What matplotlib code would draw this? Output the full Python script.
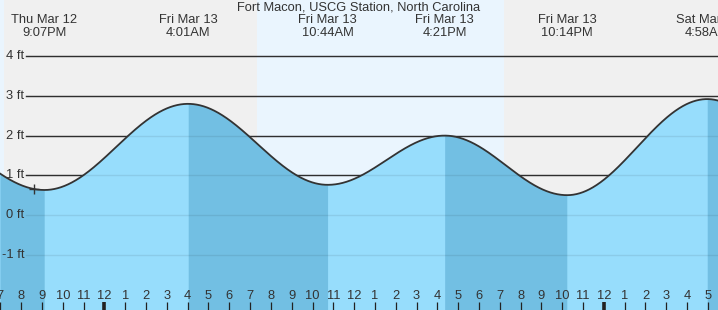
import numpy as np
import matplotlib
matplotlib.use("Agg")
import matplotlib.pyplot as plt

# Hours counted from Thu Mar 12, 00:00
event_times = [14.9, 21.117, 28.017, 34.733, 40.35, 46.233, 52.967, 59.2]
event_heights = [2.2, 0.63, 2.80, 0.76, 2.00, 0.50, 2.92, 0.70]
label_idx = [1, 2, 3, 4, 5, 6]
event_days = ["Thu Mar 12", "Fri Mar 13", "Fri Mar 13", "Fri Mar 13", "Fri Mar 13", "Sat Mar 14"]
event_clock = ["9:07PM", "4:01AM", "10:44AM", "4:21PM", "10:14PM", "4:58AM"]
day_spans = [(10.0, 19.17), (31.32, 43.19)]
now_time = 20.6
title = "Fort Macon, USCG Station, North Carolina"
ytick_vals = [-1, 0, 1, 2, 3, 4]
hour_ticks = list(range(19, 54))

XMIN, XMAX = 18.982, 53.485
YMIN, YMAX = -2.393, 5.416
FS = 9.3
FAM = "Liberation Sans"

def tide(t):
    t = np.asarray(t, dtype=float)
    out = np.empty_like(t)
    for i in range(len(event_times) - 1):
        t0, t1 = event_times[i], event_times[i + 1]
        h0, h1 = event_heights[i], event_heights[i + 1]
        m = (t >= t0) & (t <= t1)
        f = (t[m] - t0) / (t1 - t0)
        out[m] = (h0 + h1) / 2 + (h0 - h1) / 2 * np.cos(np.pi * f)
    return out

fig = plt.figure(figsize=(7.18, 3.10), dpi=100)
ax = fig.add_axes([0, 0, 1, 1])
ax.set_xlim(XMIN, XMAX)
ax.set_ylim(YMIN, YMAX)
ax.axis("off")
ax.add_patch(plt.Rectangle((XMIN, YMIN), XMAX - XMIN, YMAX - YMIN, color="#f0f0f0", zorder=0))
for a, b in day_spans:
    ax.axvspan(a, b, color="#eaf5fe", zorder=0.5, lw=0)

# grid lines
gx0 = 26 / 718
for v in ytick_vals:
    ax.axhline(v, xmin=gx0, xmax=1, color="#333333", lw=1.0, zorder=1)
    ax.text(XMIN + 24.5 / 20.81, v, f"{v} ft", ha="right", va="center",
            fontsize=FS, color="#333333", family=FAM, zorder=5)

t = np.linspace(XMIN, XMAX, 2000)
h = tide(t)
# water: rising tide light, falling tide dark
ax.fill_between(t, YMIN, h, color="#97ddfc", lw=0, zorder=2)
for i in range(len(event_times) - 1):
    t0, t1 = event_times[i], event_times[i + 1]
    if event_heights[i + 1] > event_heights[i]:
        continue
    m = (t >= t0) & (t <= t1)
    if m.sum() < 2:
        continue
    ax.fill_between(t[m], YMIN, h[m], color="#72bfe3", lw=0, zorder=2.1)

for v in ytick_vals:
    ax.axhline(v, xmin=gx0, xmax=1, color="#000000", alpha=0.08, lw=1.0, zorder=3)

ax.plot(t, h, color="#333333", lw=1.3, zorder=4)
ax.plot([now_time], tide([now_time]), marker="+", ms=7, mew=1.0, color="#333333", zorder=5)

# header labels
fig.text(0.5, 1 - 7.5 / 310, title, ha="center", va="center", fontsize=FS,
         color="#333333", family=FAM)
for i, d, c in zip(label_idx, event_days, event_clock):
    xf = (event_times[i] - XMIN) / (XMAX - XMIN)
    fig.text(xf, 1 - 20 / 310, d, ha="center", va="center", fontsize=FS,
             color="#333333", family=FAM)
    fig.text(xf, 1 - 32.5 / 310, c, ha="center", va="center", fontsize=FS,
             color="#333333", family=FAM)

# hour ticks at bottom
for hr in hour_ticks:
    lab = (hr % 12) or 12
    ax.text(hr, YMIN + 14 / 39.7, str(lab), ha="center", va="center", fontsize=FS,
            color="#333333", family=FAM, zorder=5)
    thick = (hr % 24 == 0)
    ax.plot([hr, hr], [YMIN, YMIN + 8 / 39.7], color="#222222",
            lw=2.6 if thick else 0.9, zorder=5, solid_capstyle="butt")

fig.savefig("out.png", dpi=100)
